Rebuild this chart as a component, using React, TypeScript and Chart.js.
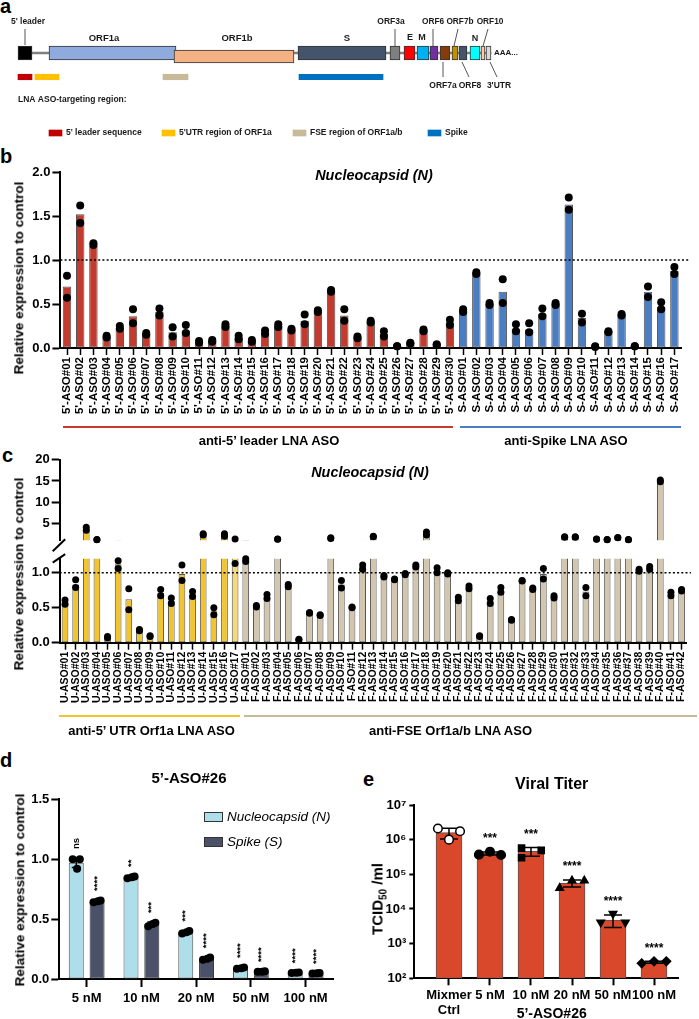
import React, { useEffect, useRef } from 'react';
import { Chart, registerables } from 'chart.js';

Chart.register(...registerables);

const FONT = "'Liberation Sans', Arial, Helvetica, sans-serif";
const bold = (size: number) => ({ family: FONT, size, weight: 'bold' as const });

/* ================= DATA ================= */

/* panel a : genome schematic (diagram units) */
const geneNames = ["5' leader", 'ORF1a', 'ORF1b', 'S', 'ORF3a', 'E', 'M', 'ORF6', 'ORF7a', 'ORF7b', 'ORF8', 'N', 'ORF10', "3'UTR"];
const geneStart = [18, 49, 174, 298, 390, 404, 417, 430, 440, 452, 459, 470, 481, 486];
const geneEnd = [32, 176, 294, 386, 400, 415, 429, 438, 450, 458, 467, 480, 485, 491];
const geneColors = ['#000000', '#8FAADC', '#F4B183', '#44546A', '#7F7F7F', '#FF0000', '#00B0F0', '#7030A0', '#843C0C', '#BF9000', '#44546A', '#00FFFF', '#F8CBAD', '#D9D9D9'];
const targetNames = ["5' leader sequence", "5'UTR region of ORF1a", 'FSE region of ORF1a/b', 'Spike'];
const targetStart = [18, 35, 163, 299];
const targetEnd = [32, 59, 188, 383];
const targetColors = ['#C00000', '#FFC000', '#C9B99B', '#0070C0'];

/* panel b */
const leaderLabels = Array.from({ length: 30 }, (_, i) => `5'-ASO#${String(i + 1).padStart(2, '0')}`);
const spikeLabels = Array.from({ length: 17 }, (_, i) => `S-ASO#${String(i + 1).padStart(2, '0')}`);
const bLeaderMean = [0.70, 1.52, 1.16, 0.13, 0.23, 0.36, 0.16, 0.41, 0.18, 0.20, 0.07, 0.08, 0.25, 0.12, 0.08, 0.18, 0.25, 0.21, 0.31, 0.42, 0.65, 0.37, 0.12, 0.30, 0.16, 0.02, 0.06, 0.20, 0.04, 0.29];
const bLeaderRep1 = [0.82, 1.62, 1.19, 0.14, 0.25, 0.44, 0.17, 0.45, 0.235, 0.26, 0.08, 0.09, 0.27, 0.14, 0.09, 0.20, 0.27, 0.22, 0.38, 0.43, 0.66, 0.44, 0.13, 0.31, 0.19, 0.02, 0.06, 0.21, 0.04, 0.32];
const bLeaderRep2 = [0.57, 1.42, 1.17, 0.12, 0.22, 0.28, 0.15, 0.37, 0.13, 0.17, 0.06, 0.07, 0.24, 0.10, 0.07, 0.16, 0.24, 0.20, 0.27, 0.41, 0.64, 0.31, 0.11, 0.29, 0.13, 0.02, 0.05, 0.19, 0.04, 0.26];
const bSpikeMean = [0.43, 0.85, 0.50, 0.64, 0.22, 0.21, 0.39, 0.50, 1.63, 0.34, 0.02, 0.19, 0.38, 0.02, 0.64, 0.47, 0.875];
const bSpikeRep1 = [0.44, 0.86, 0.51, 0.78, 0.27, 0.28, 0.45, 0.51, 1.71, 0.39, 0.02, 0.19, 0.385, 0.02, 0.70, 0.52, 0.92];
const bSpikeRep2 = [0.41, 0.84, 0.49, 0.51, 0.19, 0.18, 0.36, 0.49, 1.57, 0.29, 0.01, 0.18, 0.37, 0.02, 0.58, 0.44, 0.84];
const bTicks = [0, 0.5, 1.0, 1.5, 2.0];

/* panel c */
const utrLabels = Array.from({ length: 17 }, (_, i) => `U-ASO#${String(i + 1).padStart(2, '0')}`);
const fseLabels = Array.from({ length: 42 }, (_, i) => `F-ASO#${String(i + 1).padStart(2, '0')}`);
const uMean = [0.58, 0.83, 3.85, 1.35, 0.08, 1.12, 0.62, 0.18, 0.10, 0.71, 0.60, 0.98, 0.69, 2.55, 0.45, 2.40, 1.30];
const uRep1 = [0.61, 0.90, 4.20, 1.38, 0.09, 1.17, 0.77, 0.19, 0.10, 0.76, 0.64, 1.11, 0.73, 2.70, 0.50, 2.70, 1.47];
const uRep2 = [0.55, 0.79, 3.50, 1.32, 0.07, 1.06, 0.47, 0.17, 0.09, 0.67, 0.56, 0.89, 0.66, 2.40, 0.40, 2.10, 1.13];
const fMean = [1.18, 0.52, 0.65, 1.44, 0.82, 0.05, 0.42, 0.40, 1.68, 0.83, 0.50, 1.08, 2.07, 0.95, 0.90, 0.98, 1.09, 2.75, 1.03, 0.99, 0.62, 0.79, 0.10, 0.60, 0.76, 0.33, 0.89, 0.77, 0.98, 0.66, 1.94, 1.94, 0.73, 1.44, 1.34, 1.79, 1.34, 1.03, 1.07, 15.0, 0.70, 0.75];
const fRep1 = [1.20, 0.53, 0.69, 1.47, 0.83, 0.05, 0.43, 0.40, 1.76, 0.89, 0.51, 1.11, 2.14, 0.96, 0.91, 0.99, 1.11, 3.10, 1.07, 1.00, 0.65, 0.81, 0.10, 0.63, 0.79, 0.33, 0.89, 0.78, 1.06, 0.67, 1.98, 1.98, 0.79, 1.47, 1.38, 1.83, 1.38, 1.05, 1.09, 15.2, 0.72, 0.76];
const fRep2 = [1.16, 0.51, 0.63, 1.40, 0.80, 0.04, 0.42, 0.39, 1.60, 0.78, 0.50, 1.05, 2.00, 0.94, 0.90, 0.97, 1.08, 2.40, 1.00, 0.98, 0.60, 0.77, 0.09, 0.56, 0.72, 0.32, 0.88, 0.76, 0.91, 0.64, 1.90, 1.90, 0.67, 1.40, 1.30, 1.75, 1.30, 1.02, 1.05, 14.8, 0.67, 0.74];
const cLowerTicks = [0, 0.5, 1.0];
const cUpperTicks = [5, 10, 15, 20];
const C_LOW_MAX = 1.2;
const C_UP_MIN = 1.2;
const C_UP_MAX = 20;

/* panel d */
const dConc = ['5 nM', '10 nM', '20 nM', '50 nM', '100 nM'];
const dMeanN = [0.97, 0.85, 0.39, 0.09, 0.053];
const dMeanS = [0.65, 0.46, 0.17, 0.062, 0.048];
const dErrN = [0.04, 0.01, 0.015, 0.01, 0.004];
const dErrS = [0.01, 0.015, 0.012, 0.004, 0.003];
const dRepN1 = [1.00, 0.84, 0.38, 0.085, 0.05];
const dRepN2 = [1.00, 0.855, 0.40, 0.095, 0.055];
const dRepN3 = [0.92, 0.85, 0.39, 0.09, 0.053];
const dRepS1 = [0.64, 0.44, 0.16, 0.06, 0.046];
const dRepS2 = [0.655, 0.47, 0.18, 0.065, 0.05];
const dRepS3 = [0.65, 0.46, 0.17, 0.06, 0.048];
const dSigN = ['ns', '**', '***', '****', '****'];
const dSigS = ['****', '***', '****', '****', '****'];
const dTicks = [0, 0.5, 1.0, 1.5];

/* panel e */
const eLabels = [['Mixmer', 'Ctrl'], '5 nM', '10 nM', '20 nM', '50 nM', '100 nM'];
const eMean = [1.6e6, 4.0e5, 4.6e5, 5.6e4, 4.8e3, 2.9e2];
const eSD = [5.5e5, 0.4e5, 1.3e5, 1.3e4, 1.9e3, 0.2e2];
const eRep1 = [2.1e6, 3.7e5, 5.7e5, 4.0e4, 4.1e3, 2.7e2];
const eRep2 = [1.0e6, 4.5e5, 3.0e5, 6.6e4, 7.3e3, 3.1e2];
const eRep3 = [1.75e6, 3.6e5, 4.9e5, 6.6e4, 4.1e3, 3.1e2];
const eSig = ['', '***', '***', '****', '****', '****'];
const eTicks = [1e2, 1e3, 1e4, 1e5, 1e6, 1e7];
const eTickLabels = ['10²', '10³', '10⁴', '10⁵', '10⁶', '10⁷'];

/* ================= STYLE / LAYOUT ================= */
const RED = '#C33B2E';
const BLUE = '#4A7DC2';
const YELLOW = '#F2C530';
const YELLOW_LIGHT = '#F7D97A';
const BEIGE = '#D3C6AE';
const LIGHTBLUE = '#ADDEEA';
const SLATE = '#4A5169';
const ORANGE = '#D9482B';
const OUTLINE = '#555555';

const A_ROW = 53, A_ROW_1B = 56.5, A_TARGET = 77, A_LEGEND = 133;
const A_LEGEND_X = [49, 162, 293, 428];
const A_LEGEND_W = 13;
const ORF1B = 2;
const aLabels: { t: string; x: number; y: number; s: number; align?: CanvasTextAlign }[] = [
  { t: "5' leader", x: 28, y: 22, s: 8.5 },
  { t: 'ORF1a', x: 104, y: 38, s: 9.5 },
  { t: 'ORF1b', x: 237, y: 38, s: 9.5 },
  { t: 'S', x: 347, y: 38, s: 9.5 },
  { t: 'ORF3a', x: 391, y: 22, s: 8.5 },
  { t: 'E', x: 410, y: 38, s: 9 },
  { t: 'M', x: 422, y: 38, s: 9 },
  { t: 'ORF6', x: 433, y: 22, s: 8.3 },
  { t: 'ORF7b', x: 460, y: 22, s: 8.3 },
  { t: 'ORF10', x: 490, y: 22, s: 8.3 },
  { t: 'N', x: 475, y: 39, s: 9 },
  { t: 'AAA...', x: 494, y: 53, s: 8, align: 'left' },
  { t: 'ORF7a', x: 443, y: 86, s: 8.5 },
  { t: 'ORF8', x: 470, y: 86, s: 8.5 },
  { t: "3'UTR", x: 499, y: 86, s: 8.5 },
];
const aLeaders = [[25, 29, 25, 45], [395, 29, 395, 46], [433, 29, 433, 46], [458, 29, 454, 46], [488, 29, 483, 46], [443, 62, 443, 77], [462, 62, 469, 77], [490, 62, 497, 77]];

const D_OFF = 0.19;
const D_JIT = [-0.065, 0.065, 0.015];
const E_JIT = [[-0.27, 0, 0.27], [-0.27, 0, 0.27], [-0.23, -0.23, 0.25], [-0.3, 0, 0.3], [-0.3, 0, 0.3], [-0.3, 0, 0.3]];
const E_STYLE = ['circle', 'circle', 'rect', 'triangle', 'triangle', 'rectRot'];
const E_ROT = [0, 0, 0, 0, 180, 0];

/* ================= HELPERS ================= */
const noPlugins = { legend: { display: false }, tooltip: { enabled: false } };
const axisBorder = { display: true, color: '#000', width: 2 };
const tickGrid = (len: number, w = 2) => ({ display: true, drawOnChartArea: false, drawTicks: true, tickLength: len, tickWidth: w, tickColor: '#000', offset: false });

const refLine = (value: number, extra: number) => ({
  id: 'refLine',
  afterDatasetDraw(chart: any, args: any) {
    if (args.meta.type !== 'bar') return;
    const { ctx, chartArea, scales } = chart;
    const y = scales.y.getPixelForValue(value);
    ctx.save();
    ctx.strokeStyle = '#000';
    ctx.lineWidth = 1.4;
    ctx.setLineDash([2, 2.2]);
    ctx.beginPath();
    ctx.moveTo(chartArea.left, y);
    ctx.lineTo(chartArea.right + extra, y);
    ctx.stroke();
    ctx.restore();
  },
});

function ChartCanvas({ left, top, width, height, make }: { left: number; top: number; width: number; height: number; make: () => any }) {
  const ref = useRef<HTMLCanvasElement | null>(null);
  useEffect(() => {
    if (!ref.current) return;
    const chart = new Chart(ref.current, make());
    return () => chart.destroy();
  }, []);
  return (
    <div style={{ position: 'absolute', left, top, width, height }}>
      <canvas ref={ref} width={width} height={height} style={{ display: 'block' }} />
    </div>
  );
}

function T({ x, y, size = 13, weight = 'bold', italic = false, align = 'center', rotate = 0, children }: any) {
  const tx = align === 'center' ? '-50%' : align === 'left' ? '0%' : '-100%';
  return (
    <div style={{ position: 'absolute', left: x, top: y, transform: `translate(${tx}, -50%) rotate(${rotate}deg)`, fontSize: size, fontWeight: weight, fontStyle: italic ? 'italic' : 'normal', whiteSpace: 'nowrap', lineHeight: 1, color: '#000', fontFamily: FONT }}>
      {children}
    </div>
  );
}

function Line({ x1, x2, y, color, h = 2.3 }: any) {
  return <div style={{ position: 'absolute', left: x1, top: y - h / 2, width: x2 - x1, height: h, background: color }} />;
}

/* ================= PANEL A ================= */
function makeA() {
  const idx = geneNames.map((_, i) => i).filter((i) => i !== ORF1B);
  return {
    type: 'bar',
    data: {
      datasets: [
        { data: [{ x: [geneEnd[0], geneEnd[geneEnd.length - 1]], y: A_ROW }], backgroundColor: '#808080', barThickness: 1.6, borderWidth: 0, grouped: false, order: 5 },
        { data: idx.map((i) => ({ x: [geneStart[i], geneEnd[i]], y: A_ROW })), backgroundColor: idx.map((i) => geneColors[i]), borderColor: '#333', borderWidth: 1, borderSkipped: false, barThickness: 14, grouped: false, order: 4 },
        { data: [{ x: [geneStart[ORF1B], geneEnd[ORF1B]], y: A_ROW_1B }], backgroundColor: geneColors[ORF1B], borderColor: '#333', borderWidth: 1, borderSkipped: false, barThickness: 13, grouped: false, order: 3 },
        { data: targetNames.map((_, i) => ({ x: [targetStart[i], targetEnd[i]], y: A_TARGET })), backgroundColor: targetColors, borderWidth: 0, barThickness: 5.5, grouped: false, order: 2 },
        { data: targetNames.map((_, i) => ({ x: [A_LEGEND_X[i], A_LEGEND_X[i] + A_LEGEND_W], y: A_LEGEND })), backgroundColor: targetColors, borderWidth: 0, barThickness: 6, grouped: false, order: 1 },
      ],
    },
    options: {
      indexAxis: 'y', animation: false, responsive: false, devicePixelRatio: 1,
      layout: { padding: 0 },
      plugins: noPlugins,
      scales: {
        x: { type: 'linear', min: 0, max: 699, display: false, offset: false },
        y: { type: 'linear', min: 0, max: 150, reverse: true, display: false, offset: false },
      },
    },
    plugins: [{
      id: 'schematic',
      afterDatasetsDraw(chart: any) {
        const { ctx, scales: { x, y } } = chart;
        ctx.save();
        ctx.strokeStyle = '#555';
        ctx.lineWidth = 1;
        aLeaders.forEach((l) => {
          ctx.beginPath();
          ctx.moveTo(x.getPixelForValue(l[0]), y.getPixelForValue(l[1]));
          ctx.lineTo(x.getPixelForValue(l[2]), y.getPixelForValue(l[3]));
          ctx.stroke();
        });
        ctx.fillStyle = '#1a1a1a';
        ctx.textBaseline = 'middle';
        aLabels.forEach((l) => {
          ctx.font = `bold ${l.s}px ${FONT}`;
          ctx.textAlign = l.align || 'center';
          ctx.fillText(l.t, x.getPixelForValue(l.x), y.getPixelForValue(l.y));
        });
        ctx.textAlign = 'left';
        ctx.font = `bold 8.5px ${FONT}`;
        ctx.fillText('LNA ASO-targeting region:', x.getPixelForValue(18), y.getPixelForValue(100));
        targetNames.forEach((n, i) => {
          ctx.fillText(n, x.getPixelForValue(A_LEGEND_X[i] + A_LEGEND_W + 4), y.getPixelForValue(A_LEGEND));
        });
        ctx.restore();
      },
    }],
  };
}

/* ================= PANEL B ================= */
function makeB() {
  const labels = [...leaderLabels, ...spikeLabels];
  const means = [...bLeaderMean, ...bSpikeMean];
  const rep1 = [...bLeaderRep1, ...bSpikeRep1];
  const rep2 = [...bLeaderRep2, ...bSpikeRep2];
  const colors = [...leaderLabels.map(() => RED), ...spikeLabels.map(() => BLUE)];
  const dots = [...rep1.map((v, i) => ({ x: labels[i], y: v })), ...rep2.map((v, i) => ({ x: labels[i], y: v }))];
  return {
    type: 'bar',
    data: {
      labels,
      datasets: [
        { type: 'bar', data: means, backgroundColor: colors, borderColor: OUTLINE, borderWidth: 1, borderSkipped: false, barPercentage: 0.64, categoryPercentage: 1, order: 2 },
        { type: 'line', data: dots, showLine: false, pointRadius: 4, pointBackgroundColor: '#000', pointBorderWidth: 0, order: 1, clip: false },
      ],
    },
    options: {
      animation: false, responsive: false, devicePixelRatio: 1,
      layout: { padding: { left: 0, right: 18, top: 32, bottom: 0 } },
      plugins: noPlugins,
      scales: {
        x: {
          type: 'category', offset: true, grid: tickGrid(7, 1.5), border: axisBorder,
          ticks: { autoSkip: false, maxRotation: 90, minRotation: 90, padding: 2, color: '#000', font: bold(11.5) },
          afterFit: (s: any) => { s.height = 82; },
        },
        y: {
          min: 0, max: 2, grid: tickGrid(8), border: axisBorder,
          afterBuildTicks: (s: any) => { s.ticks = bTicks.map((v) => ({ value: v })); },
          ticks: { callback: (v: any) => Number(v).toFixed(1), color: '#000', font: bold(13), padding: 2 },
          afterFit: (s: any) => { s.width = 60.4; },
        },
      },
    },
    plugins: [refLine(1, 8)],
  };
}

/* ================= PANEL C ================= */
const cLabels = [...utrLabels, ...fseLabels];
const cMean = [...uMean, ...fMean];
const cRep1 = [...uRep1, ...fRep1];
const cRep2 = [...uRep2, ...fRep2];
const cColors = [...utrLabels.map((_, i) => (i === utrLabels.length - 1 ? YELLOW_LIGHT : YELLOW)), ...fseLabels.map(() => BEIGE)];
const cDots = [...cRep1.map((v, i) => ({ x: cLabels[i], y: v })), ...cRep2.map((v, i) => ({ x: cLabels[i], y: v }))];

function cBars() {
  return { type: 'bar', data: cMean, backgroundColor: cColors, borderColor: OUTLINE, borderWidth: 1, borderSkipped: false, barPercentage: 0.63, categoryPercentage: 1, order: 2, clip: 0 };
}

function makeCUpper() {
  return {
    type: 'bar',
    data: {
      labels: cLabels,
      datasets: [
        cBars(),
        { type: 'line', data: cDots.filter((d) => d.y > C_UP_MIN), showLine: false, pointRadius: 3.5, pointBackgroundColor: '#000', pointBorderWidth: 0, order: 1, clip: false },
      ],
    },
    options: {
      animation: false, responsive: false, devicePixelRatio: 1,
      layout: { padding: { left: 0, right: 12.1, top: 19.5, bottom: 6.5 } },
      plugins: noPlugins,
      scales: {
        x: { type: 'category', offset: true, display: false },
        y: {
          min: C_UP_MIN, max: C_UP_MAX, grid: tickGrid(8), border: axisBorder,
          afterBuildTicks: (s: any) => { s.ticks = cUpperTicks.map((v) => ({ value: v })); },
          ticks: { color: '#000', font: bold(13), padding: 2 },
          afterFit: (s: any) => { s.width = 59.7; },
        },
      },
    },
  };
}

function makeCLower() {
  return {
    type: 'bar',
    data: {
      labels: cLabels,
      datasets: [
        cBars(),
        { type: 'line', data: cDots.filter((d) => d.y <= C_LOW_MAX), showLine: false, pointRadius: 3.5, pointBackgroundColor: '#000', pointBorderWidth: 0, order: 1, clip: false },
      ],
    },
    options: {
      animation: false, responsive: false, devicePixelRatio: 1,
      layout: { padding: { left: 0, right: 12.1, top: 28.7, bottom: 0 } },
      plugins: noPlugins,
      scales: {
        x: {
          type: 'category', offset: true, grid: tickGrid(7, 1.5), border: axisBorder,
          ticks: { autoSkip: false, maxRotation: 90, minRotation: 90, padding: 2, color: '#000', font: bold(10.5) },
          afterFit: (s: any) => { s.height = 92.3; },
        },
        y: {
          min: 0, max: C_LOW_MAX, grid: tickGrid(8), border: axisBorder,
          afterBuildTicks: (s: any) => { s.ticks = cLowerTicks.map((v) => ({ value: v })); },
          ticks: { callback: (v: any) => Number(v).toFixed(1), color: '#000', font: bold(13), padding: 2 },
          afterFit: (s: any) => { s.width = 59.7; },
        },
      },
    },
    plugins: [
      refLine(1, 4),
      {
        id: 'axisBreak',
        afterDraw(chart: any) {
          const { ctx, chartArea } = chart;
          const l = chartArea.left, t = chartArea.top;
          ctx.save();
          ctx.strokeStyle = '#000';
          ctx.lineWidth = 2;
          ctx.beginPath();
          ctx.moveTo(l - 7, t - 7.5); ctx.lineTo(l + 5.5, t - 19.5);
          ctx.moveTo(l - 7, t + 4); ctx.lineTo(l + 5.5, t - 4.5);
          ctx.stroke();
          ctx.restore();
        },
      },
    ],
  };
}

/* ================= PANEL D ================= */
function makeD() {
  const dotsN = [dRepN1, dRepN2, dRepN3].flatMap((rep, k) => rep.map((v, i) => ({ x: i - D_OFF + D_JIT[k], y: v })));
  const dotsS = [dRepS1, dRepS2, dRepS3].flatMap((rep, k) => rep.map((v, i) => ({ x: i + D_OFF + D_JIT[k], y: v })));
  return {
    type: 'bar',
    data: {
      datasets: [
        { label: 'Nucleocapsid (N)', data: dMeanN.map((v, i) => ({ x: i, y: v })), backgroundColor: LIGHTBLUE, borderColor: OUTLINE, borderWidth: 1, borderSkipped: false, categoryPercentage: 0.76, barPercentage: 0.72, order: 2 },
        { label: 'Spike (S)', data: dMeanS.map((v, i) => ({ x: i, y: v })), backgroundColor: SLATE, borderColor: '#333', borderWidth: 1, borderSkipped: false, categoryPercentage: 0.76, barPercentage: 0.72, order: 2 },
        { type: 'line', data: [...dotsN, ...dotsS], showLine: false, pointRadius: 4, pointBackgroundColor: '#000', pointBorderWidth: 0, order: 1, clip: false },
      ],
    },
    options: {
      animation: false, responsive: false, devicePixelRatio: 1,
      layout: { padding: { left: 0, right: 12, top: 39.3, bottom: 0 } },
      plugins: noPlugins,
      scales: {
        x: {
          type: 'linear', min: -0.5, max: 4.5, offset: false, grid: tickGrid(8), border: axisBorder,
          afterBuildTicks: (s: any) => { s.ticks = dConc.map((_, i) => ({ value: i })); },
          ticks: { callback: (v: any) => dConc[Math.round(v)], color: '#000', font: bold(13), padding: 4 },
          afterFit: (s: any) => { s.height = 40; },
        },
        y: {
          min: 0, max: 1.5, grid: tickGrid(8), border: axisBorder,
          afterBuildTicks: (s: any) => { s.ticks = dTicks.map((v) => ({ value: v })); },
          ticks: { callback: (v: any) => Number(v).toFixed(1), color: '#000', font: bold(13), padding: 2 },
          afterFit: (s: any) => { s.width = 59.3; },
        },
      },
    },
    plugins: [{
      id: 'dExtras',
      afterDatasetDraw(chart: any, args: any) {
        if (args.index > 1) return;
        const means = args.index === 0 ? dMeanN : dMeanS;
        const errs = args.index === 0 ? dErrN : dErrS;
        const y = chart.scales.y;
        const ctx = chart.ctx;
        ctx.save();
        ctx.strokeStyle = '#000';
        ctx.lineWidth = 1.5;
        args.meta.data.forEach((bar: any, i: number) => {
          const top = y.getPixelForValue(means[i] + errs[i]);
          const bot = y.getPixelForValue(means[i] - errs[i]);
          ctx.beginPath();
          ctx.moveTo(bar.x, top); ctx.lineTo(bar.x, bot);
          ctx.moveTo(bar.x - 4.5, top); ctx.lineTo(bar.x + 4.5, top);
          ctx.moveTo(bar.x - 4.5, bot); ctx.lineTo(bar.x + 4.5, bot);
          ctx.stroke();
        });
        ctx.restore();
      },
      afterDatasetsDraw(chart: any) {
        const y = chart.scales.y;
        const ctx = chart.ctx;
        ctx.save();
        ctx.fillStyle = '#000';
        ctx.font = `bold 9.5px ${FONT}`;
        ctx.textAlign = 'left';
        ctx.textBaseline = 'middle';
        [0, 1].forEach((d) => {
          const means = d === 0 ? dMeanN : dMeanS;
          const errs = d === 0 ? dErrN : dErrS;
          const sig = d === 0 ? dSigN : dSigS;
          chart.getDatasetMeta(d).data.forEach((bar: any, i: number) => {
            const top = y.getPixelForValue(means[i] + errs[i]) - 9;
            ctx.save();
            ctx.translate(bar.x, top);
            ctx.rotate(-Math.PI / 2);
            ctx.fillText(sig[i], 0, 0);
            ctx.restore();
          });
        });
        ctx.restore();
      },
    }],
  };
}

/* ================= PANEL E ================= */
function makeE() {
  const reps = [eRep1, eRep2, eRep3];
  const dots: any[] = [];
  const styles: string[] = [];
  const rots: number[] = [];
  const fills: string[] = [];
  eMean.forEach((_, g) => {
    reps.forEach((rep, k) => {
      dots.push({ x: g + E_JIT[g][k], y: rep[g] });
      styles.push(E_STYLE[g]);
      rots.push(E_ROT[g]);
      fills.push(g === 0 ? '#ffffff' : '#000000');
    });
  });
  return {
    type: 'bar',
    data: {
      datasets: [
        { data: eMean.map((v, i) => ({ x: i, y: v })), backgroundColor: ORANGE, borderColor: OUTLINE, borderWidth: 1, borderSkipped: false, barThickness: 26, order: 2 },
        { type: 'line', data: dots, showLine: false, pointRadius: 4.3, pointStyle: styles, pointRotation: rots, pointBackgroundColor: fills, pointBorderColor: '#000', pointBorderWidth: 1.5, order: 1, clip: false },
      ],
    },
    options: {
      animation: false, responsive: false, devicePixelRatio: 1,
      layout: { padding: { left: 0, right: 21, top: 35, bottom: 0 } },
      plugins: noPlugins,
      scales: {
        x: {
          type: 'linear', min: -0.846, max: 5.585, offset: false, grid: tickGrid(7), border: axisBorder,
          afterBuildTicks: (s: any) => { s.ticks = eLabels.map((_, i) => ({ value: i })); },
          ticks: { callback: (v: any) => eLabels[Math.round(v)], color: '#000', font: bold(13), padding: 2 },
          afterFit: (s: any) => { s.height = 40.7; },
        },
        y: {
          type: 'logarithmic', min: 1e2, max: 1e7, grid: tickGrid(5), border: axisBorder,
          afterBuildTicks: (s: any) => { s.ticks = eTicks.map((v) => ({ value: v })); },
          ticks: { callback: (v: any) => { const i = eTicks.indexOf(v); return i >= 0 ? eTickLabels[i] : ''; }, color: '#000', font: bold(13), padding: 3 },
          afterFit: (s: any) => { s.width = 64.3; },
        },
      },
    },
    plugins: [{
      id: 'eExtras',
      afterDatasetDraw(chart: any, args: any) {
        if (args.index !== 0) return;
        const y = chart.scales.y;
        const ctx = chart.ctx;
        ctx.save();
        ctx.strokeStyle = '#000';
        ctx.lineWidth = 1.5;
        args.meta.data.forEach((bar: any, i: number) => {
          const top = y.getPixelForValue(eMean[i] + eSD[i]);
          const bot = y.getPixelForValue(eMean[i] - eSD[i]);
          ctx.beginPath();
          ctx.moveTo(bar.x, top); ctx.lineTo(bar.x, bot);
          ctx.moveTo(bar.x - 9, top); ctx.lineTo(bar.x + 9, top);
          ctx.moveTo(bar.x - 9, bot); ctx.lineTo(bar.x + 9, bot);
          ctx.stroke();
        });
        ctx.restore();
      },
      afterDatasetsDraw(chart: any) {
        const y = chart.scales.y;
        const ctx = chart.ctx;
        ctx.save();
        ctx.fillStyle = '#000';
        ctx.font = `bold 12px ${FONT}`;
        ctx.textAlign = 'center';
        ctx.textBaseline = 'middle';
        chart.getDatasetMeta(0).data.forEach((bar: any, i: number) => {
          const top = y.getPixelForValue(eMean[i] + eSD[i]);
          ctx.fillText(eSig[i], bar.x, top - 13);
        });
        ctx.restore();
      },
    }],
  };
}

/* ================= APP ================= */
export default function App() {
  return (
    <div style={{ position: 'absolute', left: 0, top: 0, width: 699, height: 1019, overflow: 'hidden', background: '#fff', fontFamily: FONT }}>
      {/* panel letters */}
      <T x={0} y={6} size={20} align="left">a</T>
      <T x={0} y={155.5} size={20} align="left">b</T>
      <T x={2} y={455} size={20} align="left">c</T>
      <T x={0} y={759.5} size={20} align="left">d</T>
      <T x={363} y={779} size={20} align="left">e</T>

      {/* panel a */}
      <ChartCanvas left={0} top={0} width={699} height={150} make={makeA} />

      {/* panel b */}
      <ChartCanvas left={0} top={140} width={699} height={290} make={makeB} />
      <T x={374} y={175} size={14.4} italic>Nucleocapsid (N)</T>
      <T x={19} y={278} size={13.5} rotate={-90}>Relative expression to control</T>
      <Line x1={63} x2={453} y={427} color={RED} />
      <Line x1={460} x2={681} y={427} color={BLUE} />
      <T x={269} y={439.5} size={13}>anti-5’ leader LNA ASO</T>
      <T x={566} y={439.5} size={13}>anti-Spike LNA ASO</T>

      {/* panel c */}
      <ChartCanvas left={0} top={440} width={699} height={110} make={makeCUpper} />
      <ChartCanvas left={0} top={530} width={699} height={205} make={makeCLower} />
      <T x={370} y={472} size={14.4} italic>Nucleocapsid (N)</T>
      <T x={19} y={574} size={13.5} rotate={-90}>Relative expression to control</T>
      <Line x1={59} x2={240} y={716} color={YELLOW} />
      <Line x1={244} x2={697} y={716} color={'#C9B99B'} />
      <T x={151.5} y={729.5} size={13}>anti-5’ UTR Orf1a LNA ASO</T>
      <T x={450.5} y={729.5} size={13}>anti-FSE Orf1a/b LNA ASO</T>

      {/* panel d */}
      <ChartCanvas left={0} top={760} width={345} height={259} make={makeD} />
      <T x={189} y={777} size={15}>5’-ASO#26</T>
      <T x={19.5} y={889.5} size={13.5} rotate={-90}>Relative expression to control</T>
      <div style={{ position: 'absolute', left: 204, top: 812, width: 19, height: 10, background: LIGHTBLUE, border: '1px solid #333', boxSizing: 'border-box' }} />
      <div style={{ position: 'absolute', left: 204, top: 837, width: 19, height: 10, background: SLATE, border: '1px solid #333', boxSizing: 'border-box' }} />
      <T x={227} y={817} size={13.5} weight="normal" italic align="left">Nucleocapsid (N)</T>
      <T x={227} y={842} size={13.5} weight="normal" italic align="left">Spike (S)</T>

      {/* panel e */}
      <ChartCanvas left={350} top={770} width={349} height={249} make={makeE} />
      <T x={551.7} y={784} size={16}>Viral Titer</T>
      <T x={379} y={899} size={15} rotate={-90}>TCID<sub style={{ fontSize: 10 }}>50</sub> /ml</T>
      <T x={551.7} y={1013} size={14}>5’-ASO#26</T>
    </div>
  );
}
